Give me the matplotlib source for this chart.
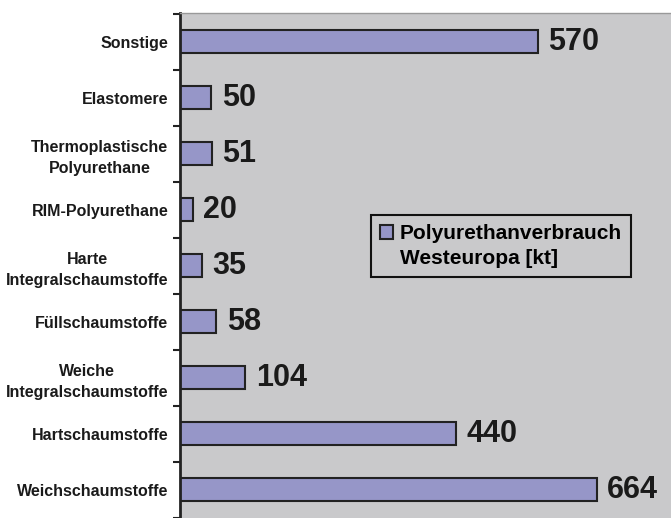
import numpy as np
import matplotlib.pyplot as plt
from matplotlib.patches import Rectangle

plt.rcParams['font.family'] = ['Liberation Sans', 'DejaVu Sans']

categories = ['Weichschaumstoffe', 'Hartschaumstoffe', 'Weiche\nIntegralschaumstoffe',
              'Füllschaumstoffe', 'Harte\nIntegralschaumstoffe', 'RIM-Polyurethane',
              'Thermoplastische\nPolyurethane', 'Elastomere', 'Sonstige']
values = [664, 440, 104, 58, 35, 20, 51, 50, 570]
series_name = ['Polyurethanverbrauch', 'Westeuropa [kt]']

fig = plt.figure(figsize=(6.71, 5.18), dpi=100)
ax = fig.add_axes([180 / 671, 0, 1 - 180 / 671, 505 / 518])
ax.set_facecolor('#c9c9cb')

y = np.arange(len(categories))
bars = ax.barh(y, values, height=0.41, color='#9696c8', edgecolor='#222222',
               linewidth=1.5, zorder=2)

for yi, v in zip(y, values):
    ax.annotate(str(v), xy=(v, yi), xytext=(7.5, 0), textcoords='offset points',
                va='center', ha='left', fontsize=22, fontweight='bold', color='#1a1a1a')

ax.set_xlim(0, 782)
ax.set_ylim(-0.406, 8.512)
ax.set_xticks([])
ax.set_yticks(y)
ax.set_yticklabels(categories, fontsize=11.5, fontweight='bold', color='#1a1a1a',
                   multialignment='center', linespacing=1.45)
ax.tick_params(axis='y', which='major', length=0, pad=8.5)
ax.set_yticks(np.arange(-0.5, 9, 1), minor=True)
ax.tick_params(axis='y', which='minor', length=5, width=1.5, color='#222222')

for s in ['right', 'bottom']:
    ax.spines[s].set_visible(False)
ax.spines['left'].set_linewidth(2)
ax.spines['left'].set_color('#222222')
ax.spines['top'].set_color('#999999')
ax.spines['top'].set_linewidth(1)

# legend: bar handle on the first line only
h1 = Rectangle((0, 0), 1, 1, facecolor='#9696c8', edgecolor='#222222', linewidth=1.5)
h2 = Rectangle((0, 0), 1, 1, facecolor='none', edgecolor='none')
leg = ax.legend([h1, h2], series_name, loc='upper left',
                bbox_to_anchor=((371 - 180) / 491, 1 - (215 - 13) / 505),
                prop={'weight': 'bold', 'size': 15}, frameon=True,
                fancybox=False, edgecolor='#111111', facecolor='#c9c9cb',
                framealpha=1, handlelength=0.62, handleheight=0.62, handletextpad=0.3,
                borderpad=0.45, borderaxespad=0, labelspacing=0.25)
leg.get_frame().set_linewidth(1.5)

fig.savefig('out.png', dpi=100)
